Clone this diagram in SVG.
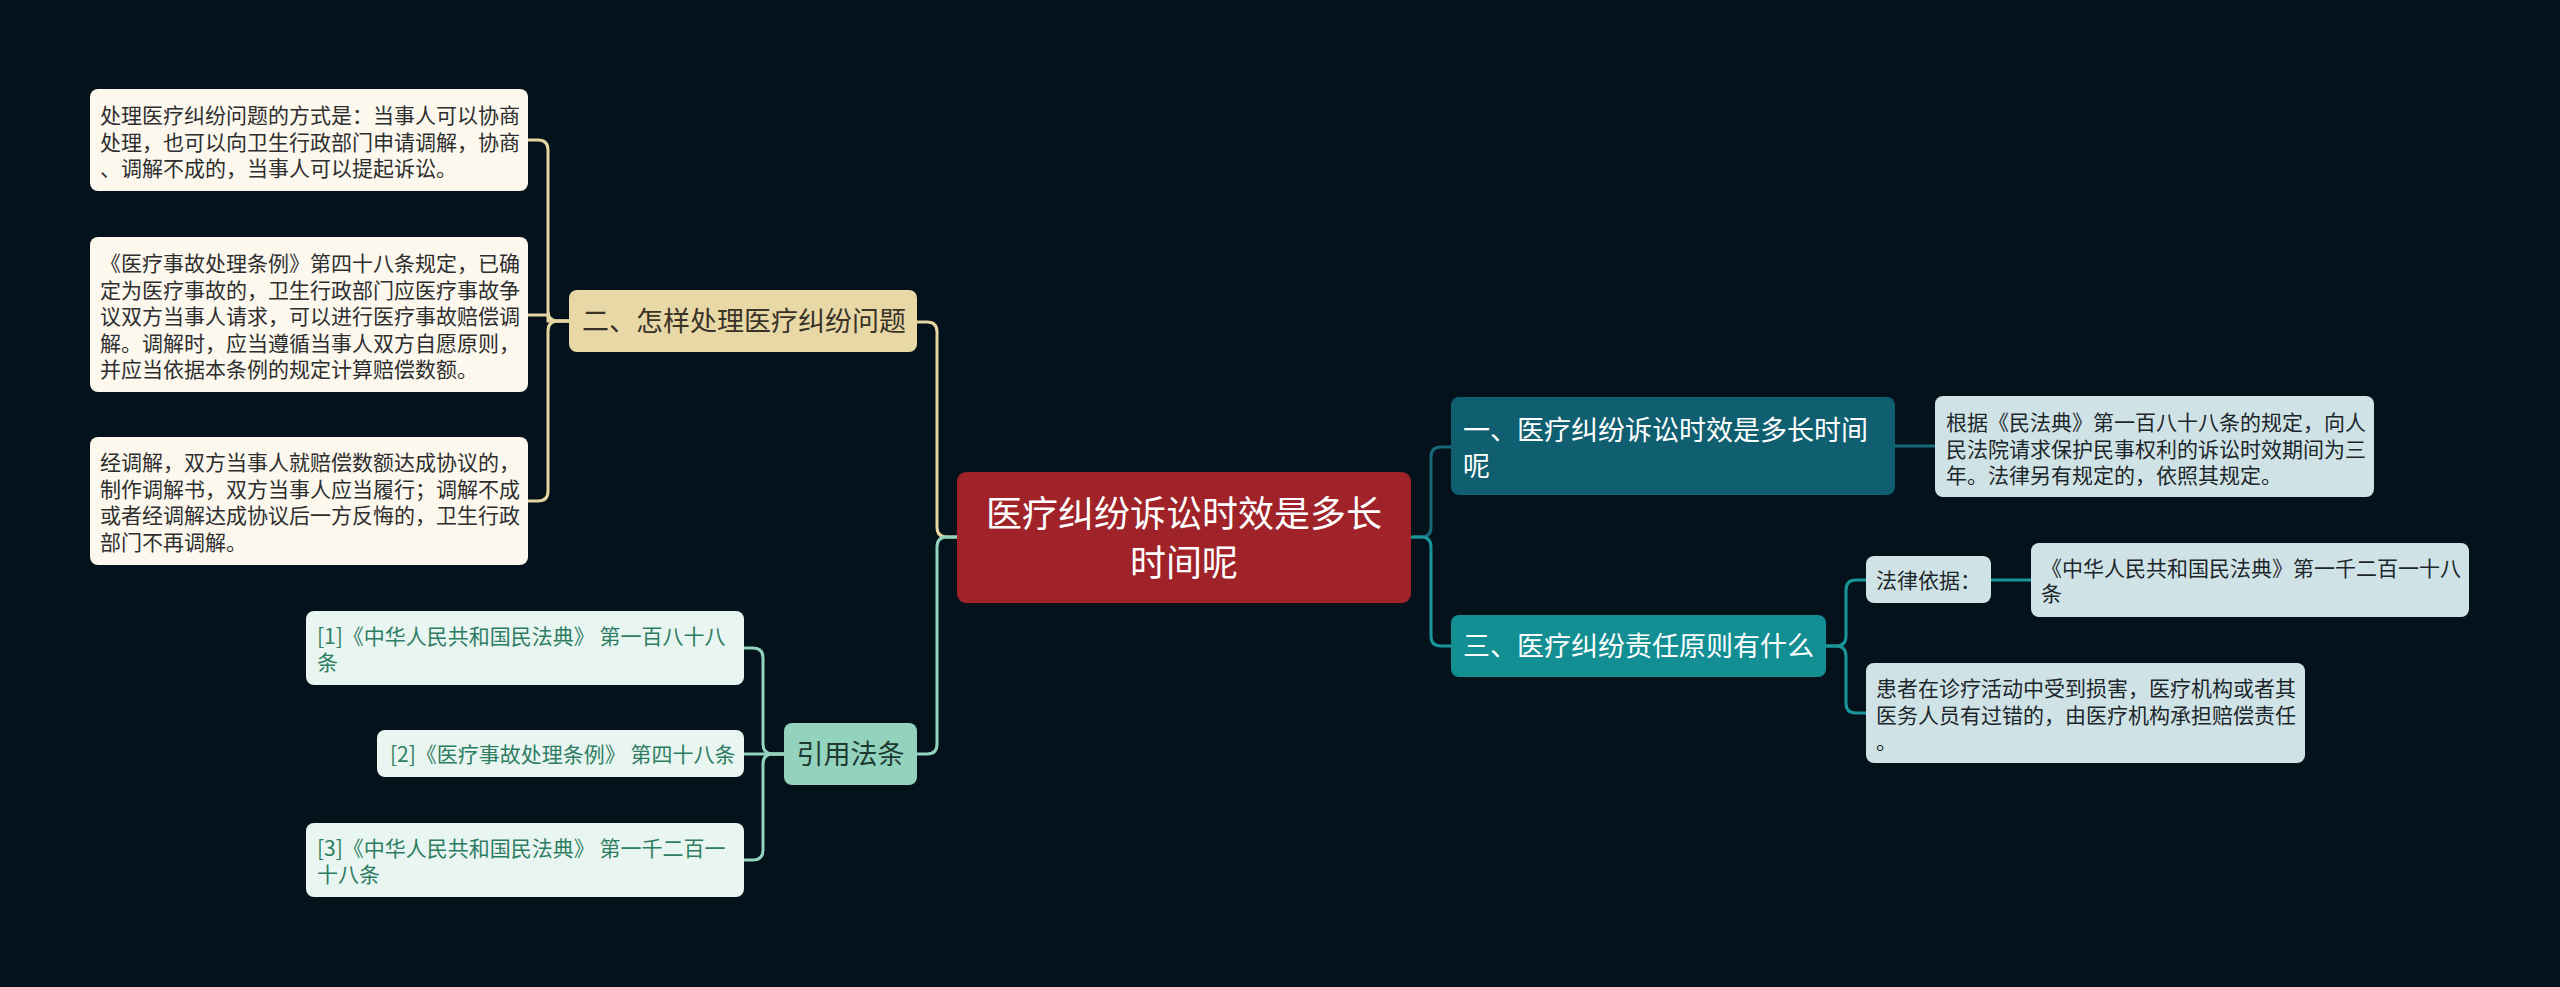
<svg xmlns="http://www.w3.org/2000/svg" width="2560" height="987" viewBox="0 0 2560 987">
<style>
text{font-family:"Noto Sans CJK SC","Microsoft YaHei",sans-serif}
.t21{font-size:21px}
.t27{font-size:27px}
.t36{font-size:36px}
.leafA rect{fill:#fcf8ee}
.leafA text{fill:#2e2e2e}
.refs rect{fill:#e8f5f1}
.refs text{fill:#2e7d62}
.leafB rect{fill:#cfe3e6}
.leafB text{fill:#1d262b}
.c{fill:none;stroke-width:3;stroke-linecap:round}
.cy{stroke:#e6d6a2}
.cg{stroke:#93d3bd}
.cd{stroke:#17697a}
.ct{stroke:#1a9599}
</style>
<rect width="2560" height="987" fill="#03121b"/>
<g id="connectors">
<path class="c cy" d="M957,537 H947 Q937,537 937,527 V332 Q937,322 927,322 H917"/>
<path class="c cg" d="M957,537 H947 Q937,537 937,547 V744 Q937,754 927,754 H917"/>
<path class="c cy" d="M569,321 H558 Q548,321 548,311 V150 Q548,140 538,140 H528"/>
<path class="c cy" d="M569,321 H548 V315 H528"/>
<path class="c cy" d="M569,321 H558 Q548,321 548,331 V491 Q548,501 538,501 H528"/>
<path class="c cg" d="M784,754 H773 Q763,754 763,744 V658 Q763,648 753,648 H744"/>
<path class="c cg" d="M784,754 H744"/>
<path class="c cg" d="M784,754 H773 Q763,754 763,764 V850 Q763,860 753,860 H744"/>
<path class="c cd" d="M1412,537 H1421 Q1431,537 1431,527 V457 Q1431,447 1441,447 H1451"/>
<path class="c ct" d="M1412,537 H1421 Q1431,537 1431,547 V636 Q1431,646 1441,646 H1451"/>
<path class="c cd" d="M1895,446 H1935"/>
<path class="c ct" d="M1826,646 H1836 Q1846,646 1846,636 V590 Q1846,580 1856,580 H1866"/>
<path class="c ct" d="M1826,646 H1836 Q1846,646 1846,656 V703 Q1846,713 1856,713 H1866"/>
<path class="c ct" d="M1991,580 H2031"/>
</g>
<g id="root">
<rect x="957" y="472" width="454" height="131" rx="9" fill="#a0232a"/>
<text class="t36" x="1184" y="527" text-anchor="middle" fill="#ffffff">医疗纠纷诉讼时效是多长</text>
<text class="t36" x="1184" y="576" text-anchor="middle" fill="#ffffff">时间呢</text>
</g>
<g id="n2">
<rect x="569" y="290" width="348" height="62" rx="8" fill="#e8d8a6"/>
<text class="t27" x="582" y="331" fill="#3a3328">二、怎样处理医疗纠纷问题</text>
</g>
<g id="n2a" class="leafA">
<rect x="90" y="89" width="438" height="102" rx="8"/>
<text class="t21" x="100" y="123">处理医疗纠纷问题的方式是：当事人可以协商</text>
<text class="t21" x="100" y="149.5">处理，也可以向卫生行政部门申请调解，协商</text>
<text class="t21" x="100" y="176">、调解不成的，当事人可以提起诉讼。</text>
</g>
<g id="n2b" class="leafA">
<rect x="90" y="237" width="438" height="155" rx="8"/>
<text class="t21" x="100" y="271">《医疗事故处理条例》第四十八条规定，已确</text>
<text class="t21" x="100" y="297.5">定为医疗事故的，卫生行政部门应医疗事故争</text>
<text class="t21" x="100" y="324">议双方当事人请求，可以进行医疗事故赔偿调</text>
<text class="t21" x="100" y="350.5">解。调解时，应当遵循当事人双方自愿原则，</text>
<text class="t21" x="100" y="377">并应当依据本条例的规定计算赔偿数额。</text>
</g>
<g id="n2c" class="leafA">
<rect x="90" y="437" width="438" height="128" rx="8"/>
<text class="t21" x="100" y="470">经调解，双方当事人就赔偿数额达成协议的，</text>
<text class="t21" x="100" y="496.5">制作调解书，双方当事人应当履行；调解不成</text>
<text class="t21" x="100" y="523">或者经调解达成协议后一方反悔的，卫生行政</text>
<text class="t21" x="100" y="549.5">部门不再调解。</text>
</g>
<g id="nref">
<rect x="784" y="723" width="133" height="62" rx="8" fill="#93d3bd"/>
<text class="t27" x="850.5" y="764" text-anchor="middle" fill="#1e3a31">引用法条</text>
</g>
<g id="ref1" class="refs">
<rect x="306" y="611" width="438" height="74" rx="8"/>
<text class="t21" x="317" y="644">[1]《中华人民共和国民法典》 第一百八十八</text>
<text class="t21" x="317" y="670">条</text>
</g>
<g id="ref2" class="refs">
<rect x="377" y="730" width="367" height="47" rx="8"/>
<text class="t21" x="390" y="762">[2]《医疗事故处理条例》 第四十八条</text>
</g>
<g id="ref3" class="refs">
<rect x="306" y="823" width="438" height="74" rx="8"/>
<text class="t21" x="317" y="856">[3]《中华人民共和国民法典》 第一千二百一</text>
<text class="t21" x="317" y="882">十八条</text>
</g>
<g id="n1">
<rect x="1451" y="397" width="444" height="98" rx="8" fill="#0f5f70"/>
<text class="t27" x="1463" y="440" fill="#ffffff">一、医疗纠纷诉讼时效是多长时间</text>
<text class="t27" x="1463" y="476" fill="#ffffff">呢</text>
</g>
<g id="n1a" class="leafB">
<rect x="1935" y="396" width="439" height="101" rx="8" fill="#cbdfe3"/>
<text class="t21" x="1946" y="430">根据《民法典》第一百八十八条的规定，向人</text>
<text class="t21" x="1946" y="456.5">民法院请求保护民事权利的诉讼时效期间为三</text>
<text class="t21" x="1946" y="483">年。法律另有规定的，依照其规定。</text>
</g>
<g id="n3">
<rect x="1451" y="615" width="375" height="62" rx="8" fill="#138f93"/>
<text class="t27" x="1463" y="656" fill="#ffffff">三、医疗纠纷责任原则有什么</text>
</g>
<g id="n3a" class="leafB">
<rect x="1866" y="556" width="125" height="47" rx="8"/>
<text class="t21" x="1876" y="588">法律依据：</text>
</g>
<g id="n3a1" class="leafB">
<rect x="2031" y="543" width="438" height="74" rx="8"/>
<text class="t21" x="2041" y="576">《中华人民共和国民法典》第一千二百一十八</text>
<text class="t21" x="2041" y="601">条</text>
</g>
<g id="n3b" class="leafB">
<rect x="1866" y="663" width="439" height="100" rx="8"/>
<text class="t21" x="1876" y="696">患者在诊疗活动中受到损害，医疗机构或者其</text>
<text class="t21" x="1876" y="722.5">医务人员有过错的，由医疗机构承担赔偿责任</text>
<text class="t21" x="1876" y="749">。</text>
</g>
</svg>
